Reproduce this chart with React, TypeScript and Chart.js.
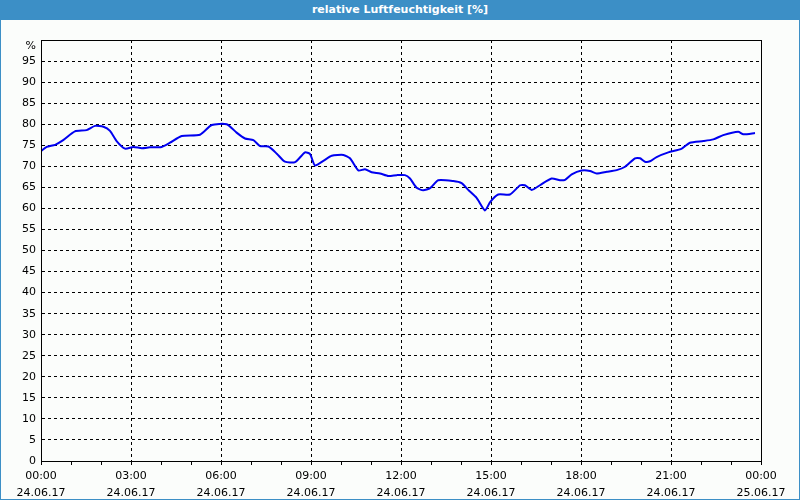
import React, { useEffect, useRef } from "react";
import { Chart, registerables } from "chart.js";

Chart.register(...registerables);

const TITLE = "relative Luftfeuchtigkeit [%]";
const hours = [0, 0.19, 0.47, 0.74, 1.13, 1.52, 1.8, 2.08, 2.3, 2.52, 2.8, 3.08, 3.36, 3.63, 4.02, 4.3, 4.69, 5.3, 5.69, 6.19, 6.52, 6.8, 7.08, 7.3, 7.58, 7.86, 8.13, 8.47, 8.8, 8.97, 9.13, 9.41, 9.69, 10.08, 10.3, 10.58, 10.8, 11.02, 11.3, 11.58, 11.86, 12.13, 12.3, 12.52, 12.74, 12.97, 13.24, 13.74, 14.02, 14.24, 14.52, 14.8, 14.97, 15.24, 15.63, 15.97, 16.13, 16.36, 16.63, 17.02, 17.3, 17.47, 17.69, 18.02, 18.3, 18.52, 18.86, 19.19, 19.47, 19.8, 19.97, 20.13, 20.3, 20.52, 20.91, 21.36, 21.63, 22.08, 22.41, 22.74, 23.24, 23.41, 23.8];
const humidity = [73.6, 74.6, 75.1, 76.2, 78.3, 78.6, 79.6, 79.4, 78.4, 76, 74.2, 74.6, 74.3, 74.5, 74.6, 75.6, 77.2, 77.5, 79.8, 80, 78, 76.6, 76.2, 74.8, 74.7, 73, 71.1, 71.0, 73.3, 72.9, 70.2, 71.3, 72.5, 72.7, 71.9, 69, 69.3, 68.6, 68.3, 67.7, 67.9, 67.9, 67.1, 64.9, 64.3, 64.8, 66.7, 66.5, 66, 64.4, 62.5, 59.5, 61.5, 63.3, 63.3, 65.5, 65.5, 64.4, 65.5, 67.1, 66.7, 66.8, 68.1, 69, 68.9, 68.3, 68.7, 69.1, 69.9, 71.9, 71.9, 71.1, 71.2, 72.2, 73.3, 74.2, 75.6, 76, 76.4, 77.4, 78.2, 77.6, 77.9];
const timeLabels = ["00:00", "03:00", "06:00", "09:00", "12:00", "15:00", "18:00", "21:00", "00:00"];
const dateLabels = ["24.06.17", "24.06.17", "24.06.17", "24.06.17", "24.06.17", "24.06.17", "24.06.17", "24.06.17", "25.06.17"];
const UNIT = "%";

const FONT = "Tahoma, 'DejaVu Sans', sans-serif";

export default function App() {
  const ref = useRef<HTMLCanvasElement>(null);
  useEffect(() => {
    document.body.style.margin = "0";
    const boxPlugin = {
      id: "box",
      afterDraw(chart: any) {
        const { ctx, chartArea: a } = chart;
        ctx.save();
        ctx.strokeStyle = "#000";
        ctx.lineWidth = 1;
        ctx.strokeRect(Math.round(a.left) + 0.5, Math.round(a.top) + 0.5, Math.round(a.right - a.left), Math.round(a.bottom - a.top));
        ctx.fillStyle = "#000";
        ctx.font = "11px " + FONT;
        ctx.textAlign = "right";
        ctx.textBaseline = "middle";
        ctx.fillText(UNIT, a.left - 5, a.top + 6);
        ctx.restore();
      },
    };
    const chart = new Chart(ref.current!, {
      type: "line",
      data: {
        datasets: [
          {
            data: hours.map((h, i) => ({ x: h, y: humidity[i] })),
            borderColor: "#0000f0",
            borderWidth: 2,
            pointRadius: 0,
            tension: 0.2,
            fill: false,
          },
        ],
      },
      options: {
        animation: false,
        responsive: false,
        maintainAspectRatio: false,
        layout: { padding: { top: 20, right: 38, left: 0, bottom: 0 } },
        plugins: { legend: { display: false }, tooltip: { enabled: false }, title: { display: false } },
        scales: {
          x: {
            type: "linear",
            min: 0,
            max: 24,
            afterFit: (s: any) => { s.height = 38; },
            ticks: {
              stepSize: 1,
              autoSkip: false,
              maxRotation: 0,
              color: "#000",
              padding: 3,
              font: { family: FONT, size: 11, lineHeight: "17px" },
              callback: (v: any) => {
                const n = Number(v);
                if (n % 3 !== 0) return "";
                const i = n / 3;
                return [timeLabels[i], dateLabels[i]];
              },
            },
            grid: {
              color: (c: any) => (c.tick && c.tick.value % 3 === 0 ? "#000" : "rgba(0,0,0,0)"),
              tickColor: "#000",
              tickLength: 4,
              lineWidth: 1,
            },
            border: { display: true, color: "#000", dash: [3, 3] },
          },
          y: {
            min: 0,
            max: 100,
            afterFit: (s: any) => { s.width = 40; },
            ticks: {
              stepSize: 5,
              color: "#000",
              padding: 5,
              font: { family: FONT, size: 11 },
              callback: (v: any) => (Number(v) === 100 ? "" : String(v)),
            },
            grid: { color: "#000", drawTicks: false, lineWidth: 1 },
            border: { display: true, color: "#000", dash: [3, 3] },
          },
        },
      },
      plugins: [boxPlugin],
    } as any);
    return () => chart.destroy();
  }, []);

  return (
    <div style={{ position: "absolute", left: 0, top: 0, width: 800, height: 500, background: "#3c8fc6" }}>
      <div
        style={{
          height: 20,
          lineHeight: "20px",
          color: "#fff",
          fontFamily: FONT,
          fontWeight: "bold",
          fontSize: 11,
          textAlign: "center",
        }}
      >
        {TITLE}
      </div>
      <div style={{ position: "absolute", left: 1, top: 20, width: 798, height: 479, background: "#fbfdfb" }}>
        <canvas ref={ref} width={798} height={479} style={{ display: "block" }} />
      </div>
    </div>
  );
}
